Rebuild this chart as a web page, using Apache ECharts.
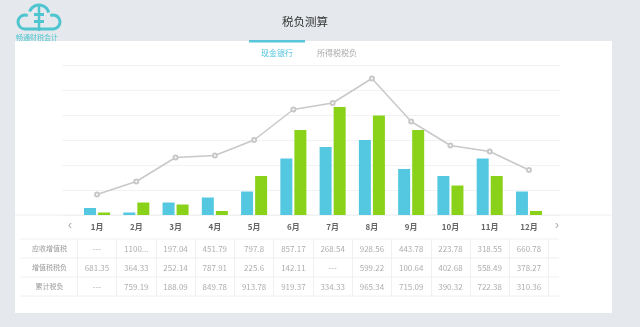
<!DOCTYPE html>
<html><head><meta charset="utf-8">
<script src="https://cdn.jsdelivr.net/npm/echarts@6/dist/echarts.min.js"></script>
<style>html,body{margin:0;padding:0;background:#e5e8ec;}#c{width:640px;height:327px;}</style>
</head><body><div id="c"></div>
<script>
var months = ['1月','2月','3月','4月','5月','6月','7月','8月','9月','10月','11月','12月'];
var blueVals = [14, 5, 25, 35, 47, 113, 136, 150, 92, 78, 113, 47];
var greenVals = [5, 25, 21, 8, 78, 170, 216, 199, 170, 59, 78, 8];
var lineVals = [41, 67, 115, 119, 150, 211, 224, 273, 187, 139, 127, 90];
var rowNames = ['应收增值税','增值税税负','累计税负'];
var row1 = ['---','1100...','197.04','451.79','797.8','857.17','268.54','928.56','443.78','223.78','318.55','660.78'];
var row2 = ['681.35','364.33','252.14','787.91','225.6','142.11','---','599.22','100.64','402.68','558.49','378.27'];
var row3 = ['---','759.19','188.09','849.78','913.78','919.37','334.33','965.34','715.09','390.32','722.38','310.36'];
var yTicks = [0, 300, 50];

var FONT = '"Noto Sans CJK SC", "Noto Sans", sans-serif';
var rows = [row1, row2, row3];
var cells = [];
rows.forEach(function(r, ri){ r.forEach(function(v, ci){ cells.push([ci, ri, v]); }); });

var chart = echarts.init(document.getElementById('c'));
var LC = '#4fc5cf';
var hl = function(y, x1, x2){ return {type:'line', shape:{x1:x1,y1:y,x2:x2,y2:y}, style:{stroke:'#eef0f2', lineWidth:1}, silent:true}; };
var arc = function(cx, cy, r, s, e){ return {type:'arc', shape:{cx:cx, cy:cy, r:r, startAngle:s, endAngle:e, clockwise:true}, style:{stroke:LC, lineWidth:3, fill:null}}; };
var PI = Math.PI;
chart.setOption({
  backgroundColor: '#e5e8ec',
  animation: false,
  textStyle: {fontFamily: FONT},
  graphic: [
    {type:'rect', shape:{x:15,y:41,width:597,height:272}, style:{fill:'#ffffff'}, z:-10},
    {type:'text', style:{text:'税负测算', x:305, y:22, align:'center', verticalAlign:'middle', fontSize:11.5, fill:'#333', fontFamily:FONT}},
    {type:'rect', shape:{x:249,y:40,width:56,height:2.5}, style:{fill:'#5ac6dc'}},
    {type:'text', style:{text:'现金银行', x:277, y:53, align:'center', verticalAlign:'middle', fontSize:8, fill:'#4fc1d9', fontFamily:FONT}},
    {type:'text', style:{text:'所得税税负', x:337, y:53, align:'center', verticalAlign:'middle', fontSize:8, fill:'#aaa', fontFamily:FONT}},
    arc(25, 22, 7, PI/2, PI*1.5 + 0.4),
    arc(39, 15, 10, PI + 0.35, 2*PI - 0.25),
    arc(53, 22, 7, -PI/2 - 0.4, PI/2),
    {type:'line', shape:{x1:25,y1:29,x2:53,y2:29}, style:{stroke:LC, lineWidth:3}},
    {type:'line', shape:{x1:39,y1:5,x2:39,y2:31}, style:{stroke:LC, lineWidth:2.5}},
    {type:'rect', shape:{x:34,y:13,width:10,height:3}, style:{fill:LC}},
    {type:'rect', shape:{x:34,y:20,width:10,height:3}, style:{fill:LC}},
    {type:'text', style:{text:'畅通财税会计', x:16, y:37, verticalAlign:'middle', fontSize:7, fill:LC, fontFamily:FONT}},
    {type:'line', shape:{x1:15,y1:215,x2:612,y2:215}, style:{stroke:'#eceef0', lineWidth:1}, silent:true},
    hl(239,20,559), hl(258,20,559), hl(277,20,559), hl(296,20,559),
    {type:'text', style:{text:'‹', x:70, y:226, align:'center', verticalAlign:'middle', fontSize:12, fill:'#aaa'}},
    {type:'text', style:{text:'›', x:557, y:226, align:'center', verticalAlign:'middle', fontSize:12, fill:'#aaa'}}
  ],
  grid: [
    {left:62, width:498, top:65, height:150},
    {left:77.4, width:471.2, top:65, height:150},
    {left:77.4, width:471.2, top:239, height:57}
  ],
  xAxis: [
    {gridIndex:0, type:'category', data:months, show:false},
    {gridIndex:1, type:'category', data:months, axisLine:{show:false}, axisTick:{show:false},
     axisLabel:{margin:8, fontSize:8, fontWeight:'bold', color:'#666', fontFamily:FONT}},
    {gridIndex:2, type:'category', data:months, axisLine:{show:false}, axisTick:{show:false}, axisLabel:{show:false},
     splitLine:{show:true, lineStyle:{color:'#eef0f2'}}}
  ],
  yAxis: [
    {gridIndex:0, type:'value', min:yTicks[0], max:yTicks[1], interval:yTicks[2], axisLabel:{show:false}, axisLine:{show:false}, axisTick:{show:false},
     splitLine:{show:true, lineStyle:{color:'#f1f2f4'}}},
    {gridIndex:1, type:'value', min:yTicks[0], max:yTicks[1], interval:yTicks[2], show:false, splitLine:{show:false}},
    {gridIndex:2, type:'category', data:rowNames, inverse:true, axisLine:{show:false}, axisTick:{show:false},
     axisLabel:{margin:28, align:'center', fontSize:7, color:'#999', fontFamily:FONT}, splitLine:{show:false}}
  ],
  series: [
    {type:'bar', xAxisIndex:1, yAxisIndex:1, data:blueVals, barWidth:12, barGap:'17%', itemStyle:{color:'#53c8e0'}},
    {type:'bar', xAxisIndex:1, yAxisIndex:1, data:greenVals, barWidth:12, itemStyle:{color:'#8ad21a'}},
    {type:'line', xAxisIndex:1, yAxisIndex:1, data:lineVals, symbol:'emptyCircle', symbolSize:4,
     lineStyle:{color:'#c8c8c8', width:1.5}, itemStyle:{color:'#c8c8c8'}, z:5, showSymbol:true},
    {type:'scatter', xAxisIndex:2, yAxisIndex:2, data:cells, symbolSize:0,
     label:{show:true, position:'inside', formatter:function(p){return p.data[2];}, fontSize:8, color:'#999', fontFamily:FONT}}
  ]
});
</script></body></html>
